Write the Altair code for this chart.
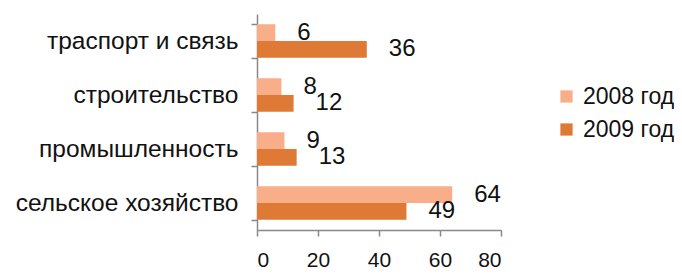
import altair as alt
import pandas as pd

categories = ["траспорт и связь", "строительство", "промышленность", "сельское хозяйство"]
years = ["2008 год", "2009 год"]
values_2008 = [6, 8, 9, 64]
values_2009 = [36, 12, 13, 49]
x_ticks = [0, 20, 40, 60, 80]

rows = []
for c, a, b in zip(categories, values_2008, values_2009):
    rows.append({"cat": c, "year": years[0], "value": a})
    rows.append({"cat": c, "year": years[1], "value": b})
df = pd.DataFrame(rows)

colors = ["#F8AE88", "#DF7A36"]

y_enc = alt.Y("cat:N", sort=categories, scale=alt.Scale(paddingInner=0.38, paddingOuter=0.19),
              axis=alt.Axis(title=None, labelFontSize=24.5, labelFont="Liberation Sans", labelColor="#111",
                            labelPadding=13, labelLimit=400, domainColor="#888", tickColor="#888",
                            tickSize=6, tickBand="extent", domainWidth=1.5, tickWidth=1.5))
yoff = alt.YOffset("year:N", sort=years)

base = alt.Chart(df)

bars = base.mark_bar(stroke=None).encode(
    x=alt.X("value:Q", scale=alt.Scale(domain=[0, 80]),
            axis=alt.Axis(title=None, values=x_ticks, grid=False, labelFontSize=21,
                          labelFont="Liberation Sans", labelColor="#111", labelPadding=13,
                          domainColor="#888", tickColor="#888", tickSize=6,
                          domainWidth=1.5, tickWidth=1.5)),
    y=y_enc,
    yOffset=yoff,
    color=alt.Color("year:N", sort=years, scale=alt.Scale(domain=years, range=colors),
                    legend=alt.Legend(title=None, orient="none", legendX=298, legendY=71,
                                      symbolType="square", symbolSize=150, labelFontSize=23,
                                      labelFont="Liberation Sans", labelColor="#111",
                                      rowPadding=9, symbolStrokeWidth=0, labelOffset=5)),
)

labels = base.mark_text(align="left", baseline="middle", dx=22, fontSize=24,
                        font="Liberation Sans", color="#111").encode(
    x="value:Q", y=alt.Y("cat:N", sort=categories), yOffset=yoff, text="value:Q"
)

chart = alt.layer(bars, labels).properties(
    width=244, height=216,
    autosize=alt.AutoSizeParams(type="none"),
    padding={"left": 249, "top": 6, "right": 173, "bottom": 45},
).configure_view(stroke=None).configure_scale(bandPaddingInner=0.38)

chart.save("out.html", embed_options={"renderer": "svg", "actions": False})
